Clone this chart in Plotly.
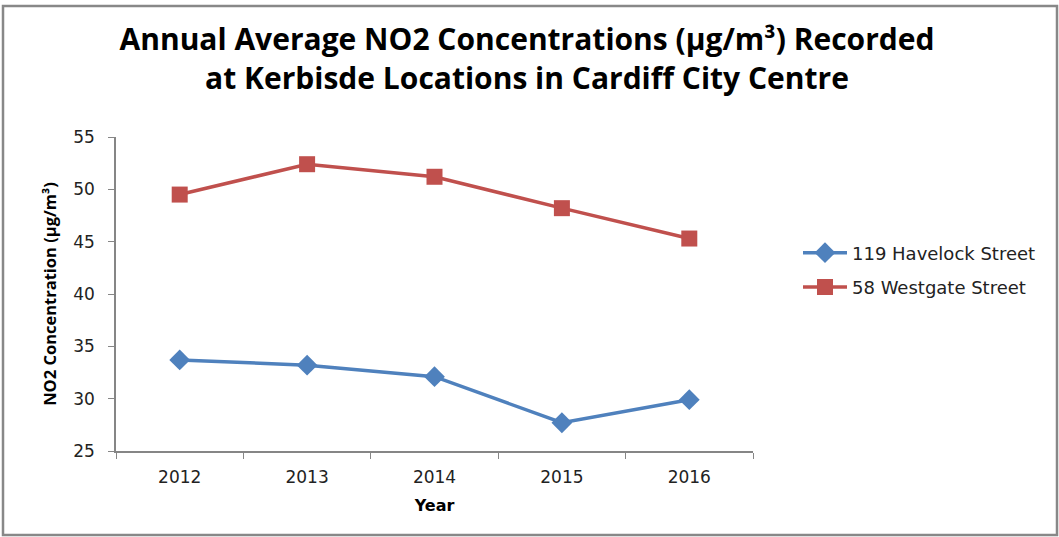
import plotly.graph_objects as go

years = ["2012", "2013", "2014", "2015", "2016"]
havelock = [33.7, 33.2, 32.1, 27.7, 29.9]
westgate = [49.5, 52.4, 51.2, 48.2, 45.3]
series_names = ["119 Havelock Street", "58 Westgate Street"]
y_ticks = [25, 30, 35, 40, 45, 50, 55]

W, H = 1059, 537
L, R, T, B = 116, 306, 137, 86
pw, ph = W - L - R, H - T - B

fig = go.Figure()
fig.add_trace(go.Scatter(x=years, y=havelock, name=series_names[0], mode="lines+markers",
                         legendgroup="a",
                         line=dict(color="#4F81BD", width=3.5),
                         marker=dict(symbol="diamond", size=16, color="#4F81BD")))
fig.add_trace(go.Scatter(x=years, y=westgate, name=series_names[1], mode="lines+markers",
                         legendgroup="b",
                         line=dict(color="#C0504D", width=3.5),
                         marker=dict(symbol="square", size=16, color="#C0504D")))

def px_x(p):
    return (p - L) / pw

def px_y(p):
    return (T + ph - p) / ph

fig.update_layout(
    width=W, height=H,
    margin=dict(l=L, r=R, t=T, b=B, autoexpand=False),
    paper_bgcolor="white", plot_bgcolor="white",
    title=dict(text="Annual Average NO2 Concentrations (µg/m³) Recorded<br>at Kerbisde Locations in Cardiff City Centre",
               x=527 / W, xanchor="center", y=1 - 50 / H, yanchor="middle",
               font=dict(family="Open Sans", size=30, color="black", weight="bold")),
    xaxis=dict(type="category", range=[-0.5, 4.5], tickson="boundaries",
               showline=True, linecolor="#868686", linewidth=1.5,
               ticks="outside", ticklen=6, tickcolor="#868686",
               showgrid=False, zeroline=False, ticklabelstandoff=10,
               tickfont=dict(family="DejaVu Sans", size=17, color="#222"),
               title=dict(text="<b>Year</b>", font=dict(family="DejaVu Sans", size=16, color="black"), standoff=14)),
    yaxis=dict(range=[25, 55], tickvals=y_ticks,
               showline=True, linecolor="#868686", linewidth=1.5,
               ticks="outside", ticklen=6, tickcolor="#868686",
               showgrid=False, zeroline=False, ticklabelstandoff=10,
               tickfont=dict(family="DejaVu Sans", size=17, color="#222"),
               title=dict(text="<b>NO2 Concentration (µg/m³)</b>", font=dict(family="Open Sans", size=16.5, color="black"), standoff=12)),
    legend=dict(x=px_x(798), y=px_y(270), xanchor="left", yanchor="middle",
                font=dict(family="DejaVu Sans", size=18, color="#222"),
                itemwidth=44, traceorder="grouped", tracegroupgap=8, bgcolor="rgba(0,0,0,0)"),
    showlegend=True,
)

fig.add_shape(type="rect", xref="paper", yref="paper",
              x0=px_x(3), x1=px_x(1057), y0=px_y(535), y1=px_y(6),
              line=dict(color="#888888", width=2.5), fillcolor="rgba(0,0,0,0)", layer="below")

fig.write_html("out.html", config={"displayModeBar": False},
               post_script="document.body.style.margin='0';document.body.style.overflow='hidden';")
